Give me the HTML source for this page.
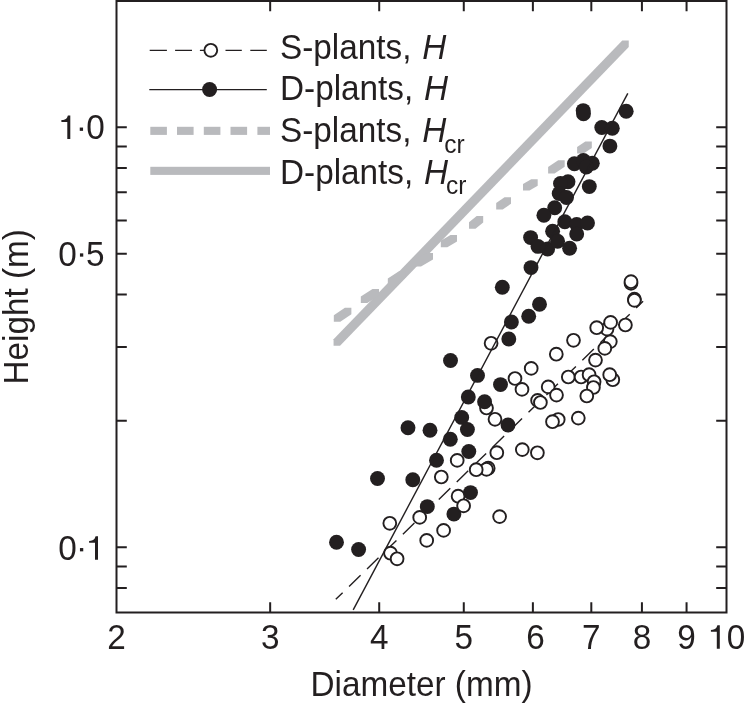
<!DOCTYPE html><html><head><meta charset="utf-8"><title>Height vs diameter</title><style>html,body{margin:0;padding:0;background:#fff;overflow:hidden;}svg{display:block;will-change:transform;}text{font-family:"Liberation Sans",sans-serif;fill:#231f20;}</style></head><body>
<svg width="745" height="704" viewBox="0 0 745 704">
<g fill="#b9babd"><polygon points="333.55,345.85 333.55,339.35 622.25,40.55 628.75,40.55 628.75,47.05 340.05,345.85"/><polygon points="333.80,321.80 333.80,315.30 344.90,307.70 351.40,307.70 351.40,314.20 340.30,321.80"/><polygon points="360.80,303.00 360.80,296.50 372.50,289.00 379.00,289.00 379.00,295.50 367.30,303.00"/><polygon points="387.80,285.00 387.80,278.50 399.30,271.00 405.80,271.00 405.80,277.50 394.30,285.00"/><polygon points="414.50,266.50 414.50,260.00 426.50,252.90 433.00,252.90 433.00,259.40 421.00,266.50"/><polygon points="440.80,247.30 440.80,240.80 450.50,234.90 457.00,234.90 457.00,241.40 447.30,247.30"/><polygon points="469.00,228.80 469.00,222.30 476.70,216.00 483.20,216.00 483.20,222.50 475.50,228.80"/><polygon points="496.20,209.60 496.20,203.10 504.50,197.20 511.00,197.20 511.00,203.70 502.70,209.60"/><polygon points="523.00,190.60 523.00,184.10 531.20,179.20 537.70,179.20 537.70,185.70 529.50,190.60"/><polygon points="548.10,173.50 548.10,167.00 558.20,160.30 564.70,160.30 564.70,166.80 554.60,173.50"/><polygon points="577.10,153.40 577.10,146.90 585.30,141.50 591.80,141.50 591.80,148.00 583.60,153.40"/></g>
<line x1="335.8" y1="599.3" x2="643.1" y2="301.2" stroke="#231f20" stroke-width="1.4" stroke-dasharray="16 9" stroke-dashoffset="6.5"/>
<g fill="#fff" stroke="#231f20" stroke-width="1.9"><circle cx="389.8" cy="523.3" r="6.4"/><circle cx="390.5" cy="553.2" r="6.4"/><circle cx="397.1" cy="558.8" r="6.4"/><circle cx="419.7" cy="517.4" r="6.4"/><circle cx="426.7" cy="540.4" r="6.4"/><circle cx="441.3" cy="477.0" r="6.4"/><circle cx="443.6" cy="530.4" r="6.4"/><circle cx="457.2" cy="460.4" r="6.4"/><circle cx="458.1" cy="496.2" r="6.4"/><circle cx="488.2" cy="468.2" r="6.4"/><circle cx="486.5" cy="469.3" r="6.4"/><circle cx="476.2" cy="469.7" r="6.4"/><circle cx="496.8" cy="452.7" r="6.4"/><circle cx="522.3" cy="449.6" r="6.4"/><circle cx="537.4" cy="452.8" r="6.4"/><circle cx="499.6" cy="516.6" r="6.4"/><circle cx="491.1" cy="343.3" r="6.4"/><circle cx="486.5" cy="408.0" r="6.4"/><circle cx="495.0" cy="419.3" r="6.4"/><circle cx="515.0" cy="378.5" r="6.4"/><circle cx="522.0" cy="389.4" r="6.4"/><circle cx="531.2" cy="368.4" r="6.4"/><circle cx="537.6" cy="400.4" r="6.4"/><circle cx="540.4" cy="402.5" r="6.4"/><circle cx="548.2" cy="386.9" r="6.4"/><circle cx="556.5" cy="395.1" r="6.4"/><circle cx="558.2" cy="419.5" r="6.4"/><circle cx="552.5" cy="421.7" r="6.4"/><circle cx="578.3" cy="418.1" r="6.4"/><circle cx="568.3" cy="377.0" r="6.4"/><circle cx="581.1" cy="377.0" r="6.4"/><circle cx="589.1" cy="374.7" r="6.4"/><circle cx="594.1" cy="381.8" r="6.4"/><circle cx="593.4" cy="387.5" r="6.4"/><circle cx="586.8" cy="396.0" r="6.4"/><circle cx="612.8" cy="379.7" r="6.4"/><circle cx="609.7" cy="374.7" r="6.4"/><circle cx="556.3" cy="354.2" r="6.4"/><circle cx="573.5" cy="340.3" r="6.4"/><circle cx="595.5" cy="360.1" r="6.4"/><circle cx="610.3" cy="341.6" r="6.4"/><circle cx="607.0" cy="329.1" r="6.4"/><circle cx="604.8" cy="348.4" r="6.4"/><circle cx="596.7" cy="327.7" r="6.4"/><circle cx="610.6" cy="322.4" r="6.4"/><circle cx="625.4" cy="325.0" r="6.4"/><circle cx="631.0" cy="283.3" r="6.4"/><circle cx="631.0" cy="281.7" r="6.4"/><circle cx="634.4" cy="299.1" r="6.4"/><circle cx="634.4" cy="300.3" r="6.4"/></g>
<g fill="#231f20"><circle cx="583.2" cy="110.6" r="7.45"/><circle cx="583.5" cy="113.8" r="7.45"/><circle cx="626.2" cy="111.2" r="7.45"/><circle cx="601.8" cy="127.5" r="7.45"/><circle cx="612.3" cy="128.2" r="7.45"/><circle cx="609.9" cy="146.1" r="7.45"/><circle cx="574.4" cy="163.8" r="7.45"/><circle cx="583.4" cy="160.5" r="7.45"/><circle cx="592.3" cy="163.3" r="7.45"/><circle cx="586.3" cy="167.0" r="7.45"/><circle cx="589.3" cy="186.6" r="7.45"/><circle cx="568.0" cy="181.8" r="7.45"/><circle cx="560.5" cy="183.5" r="7.45"/><circle cx="559.2" cy="193.6" r="7.45"/><circle cx="566.5" cy="197.5" r="7.45"/><circle cx="554.7" cy="207.8" r="7.45"/><circle cx="543.9" cy="215.2" r="7.45"/><circle cx="564.8" cy="221.8" r="7.45"/><circle cx="576.7" cy="224.5" r="7.45"/><circle cx="587.5" cy="223.0" r="7.45"/><circle cx="576.7" cy="234.1" r="7.45"/><circle cx="552.6" cy="231.2" r="7.45"/><circle cx="530.6" cy="237.6" r="7.45"/><circle cx="538.0" cy="246.4" r="7.45"/><circle cx="547.6" cy="249.0" r="7.45"/><circle cx="557.6" cy="241.2" r="7.45"/><circle cx="569.6" cy="248.3" r="7.45"/><circle cx="531.0" cy="267.6" r="7.45"/><circle cx="502.3" cy="287.3" r="7.45"/><circle cx="539.5" cy="304.3" r="7.45"/><circle cx="528.7" cy="316.3" r="7.45"/><circle cx="511.4" cy="322.0" r="7.45"/><circle cx="508.8" cy="339.0" r="7.45"/><circle cx="450.5" cy="360.5" r="7.45"/><circle cx="477.5" cy="375.4" r="7.45"/><circle cx="500.5" cy="384.6" r="7.45"/><circle cx="468.3" cy="397.0" r="7.45"/><circle cx="484.6" cy="401.7" r="7.45"/><circle cx="461.7" cy="417.4" r="7.45"/><circle cx="467.4" cy="429.5" r="7.45"/><circle cx="508.0" cy="425.0" r="7.45"/><circle cx="408.0" cy="427.7" r="7.45"/><circle cx="430.0" cy="430.2" r="7.45"/><circle cx="450.3" cy="439.3" r="7.45"/><circle cx="468.8" cy="451.5" r="7.45"/><circle cx="436.5" cy="460.3" r="7.45"/><circle cx="412.8" cy="479.8" r="7.45"/><circle cx="377.5" cy="478.5" r="7.45"/><circle cx="470.5" cy="492.6" r="7.45"/><circle cx="453.9" cy="514.1" r="7.45"/><circle cx="427.3" cy="506.6" r="7.45"/><circle cx="336.5" cy="542.2" r="7.45"/><circle cx="358.6" cy="549.5" r="7.45"/></g>
<g fill="#fff" stroke="#231f20" stroke-width="1.9"><circle cx="463.6" cy="505.8" r="6.4"/></g>
<line x1="353.2" y1="609.8" x2="627.8" y2="93.4" stroke="#231f20" stroke-width="1.4"/>
<path d="M116.5 0.9H726.5V612.6H116.5Z" fill="none" stroke="#231f20" stroke-width="2"/>
<path d="M270.17 612.6V602.3M270.17 0.9V11.2M379.21 612.6V602.3M379.21 0.9V11.2M463.78 612.6V602.3M463.78 0.9V11.2M532.88 612.6V602.3M532.88 0.9V11.2M591.31 612.6V602.3M591.31 0.9V11.2M641.92 612.6V602.3M641.92 0.9V11.2M686.56 612.6V602.3M686.56 0.9V11.2M116.5 588.00H126.8M726.5 588.00H716.2M116.5 566.52H126.8M726.5 566.52H716.2M116.5 547.30H126.8M726.5 547.30H716.2M116.5 420.87H126.8M726.5 420.87H716.2M116.5 346.91H126.8M726.5 346.91H716.2M116.5 294.43H126.8M726.5 294.43H716.2M116.5 253.73H126.8M726.5 253.73H716.2M116.5 220.48H126.8M726.5 220.48H716.2M116.5 192.36H126.8M726.5 192.36H716.2M116.5 168.00H126.8M726.5 168.00H716.2M116.5 146.52H126.8M726.5 146.52H716.2M116.5 127.30H126.8M726.5 127.30H716.2" stroke="#231f20" stroke-width="2" fill="none"/>
<text transform="translate(116.50,648.80) scale(1,1.044)" font-size="33.3" text-anchor="middle" >2</text>
<text transform="translate(270.17,648.80) scale(1,1.044)" font-size="33.3" text-anchor="middle" >3</text>
<text transform="translate(379.21,648.80) scale(1,1.044)" font-size="33.3" text-anchor="middle" >4</text>
<text transform="translate(463.78,648.80) scale(1,1.044)" font-size="33.3" text-anchor="middle" >5</text>
<text transform="translate(535.48,648.80) scale(1,1.044)" font-size="33.3" text-anchor="middle" >6</text>
<text transform="translate(591.31,648.80) scale(1,1.044)" font-size="33.3" text-anchor="middle" >7</text>
<text transform="translate(641.92,648.80) scale(1,1.044)" font-size="33.3" text-anchor="middle" >8</text>
<text transform="translate(686.56,648.80) scale(1,1.044)" font-size="33.3" text-anchor="middle" >9</text>
<path transform="translate(710.90,648.80)" d="M0,-18.8C2.5,-18.9 4.8,-19.6 5.6,-21.2L6.5,-23.5L8.9,-23.5L8.9,0L5.9,0L5.9,-17L0,-17Z" fill="#231f20"/>
<text transform="translate(735.90,648.80) scale(1,1.044)" font-size="33.3" text-anchor="middle" >0</text>
<path transform="translate(61.40,138.90)" d="M0,-18.8C2.5,-18.9 4.8,-19.6 5.6,-21.2L6.5,-23.5L8.9,-23.5L8.9,0L5.9,0L5.9,-17L0,-17Z" fill="#231f20"/>
<rect x="79.75" y="127.55" width="3.3" height="3.3" fill="#231f20"/>
<text transform="translate(95.40,138.90) scale(1,1.044)" font-size="33.3" text-anchor="middle" >0</text>
<text transform="translate(67.45,265.50) scale(1,1.044)" font-size="33.3" text-anchor="middle" >0</text>
<rect x="79.95" y="253.35" width="3.3" height="3.3" fill="#231f20"/>
<text transform="translate(95.25,265.50) scale(1,1.044)" font-size="33.3" text-anchor="middle" >5</text>
<text transform="translate(67.45,559.80) scale(1,1.044)" font-size="33.3" text-anchor="middle" >0</text>
<rect x="79.95" y="548.05" width="3.3" height="3.3" fill="#231f20"/>
<path transform="translate(89.10,559.80)" d="M0,-18.8C2.5,-18.9 4.8,-19.6 5.6,-21.2L6.5,-23.5L8.9,-23.5L8.9,0L5.9,0L5.9,-17L0,-17Z" fill="#231f20"/>
<text transform="translate(421.50,696.00) scale(1,1.044)" font-size="33.3" text-anchor="middle" >Diameter (mm)</text>
<text transform="translate(28.4,306.8) rotate(-90) scale(1,1.044)" font-size="33.3" text-anchor="middle">Height (m)</text>
<path d="M149.7 50.35H166.9M175.1 50.35H192M199.9 50.35H210M225.5 50.35H241.8M250.3 50.35H266.8" stroke="#231f20" stroke-width="1.3" fill="none"/><circle cx="210.8" cy="50.3" r="6.4" fill="#fff" stroke="#231f20" stroke-width="1.9"/><line x1="149.3" y1="89.65" x2="266.8" y2="89.65" stroke="#231f20" stroke-width="1.3"/><circle cx="209.6" cy="89.5" r="7.5" fill="#231f20"/><rect x="150.3" y="126.8" width="16.6" height="8.1" fill="#b9babd"/><rect x="177.0" y="126.8" width="16.6" height="8.1" fill="#b9babd"/><rect x="203.8" y="126.8" width="16.6" height="8.1" fill="#b9babd"/><rect x="230.5" y="126.8" width="16.6" height="8.1" fill="#b9babd"/><rect x="257.4" y="126.8" width="12.6" height="8.1" fill="#b9babd"/><rect x="150.3" y="166.8" width="119.7" height="8.1" fill="#b9babd"/>
<text transform="translate(280.00,58.60) scale(1,1.044)" font-size="33.3" text-anchor="start" >S-plants, <tspan font-style="italic" dx="1.5">H</tspan></text>
<text transform="translate(280.00,99.60) scale(1,1.044)" font-size="33.3" text-anchor="start" >D-plants, <tspan font-style="italic" dx="1.5">H</tspan></text>
<text transform="translate(280.00,142.00) scale(1,1.044)" font-size="33.3" text-anchor="start" >S-plants, <tspan font-style="italic" dx="1.5">H</tspan><tspan font-size="24.5" dx="-2" dy="10.7">cr</tspan></text>
<text transform="translate(280.00,184.00) scale(1,1.044)" font-size="33.3" text-anchor="start" >D-plants, <tspan font-style="italic" dx="1.5">H</tspan><tspan font-size="24.5" dx="-2" dy="10.0">cr</tspan></text>
</svg></body></html>
